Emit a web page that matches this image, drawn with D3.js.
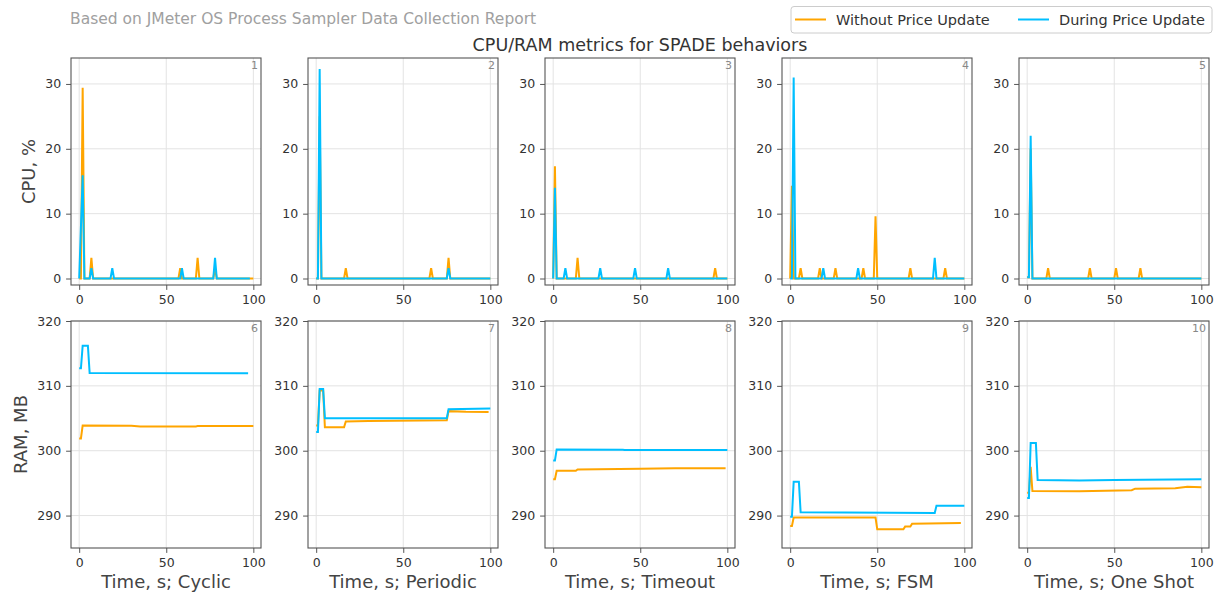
<!DOCTYPE html>
<html><head><meta charset="utf-8">
<script src="https://cdn.jsdelivr.net/npm/d3@7"></script>
<style>
body{margin:0;background:#fff;}
text{font-family:"DejaVu Sans",sans-serif;}
</style></head><body>
<svg id="chart" width="1217" height="595"></svg>
<script>
// ---------- data ----------
const behaviors = ["Cyclic", "Periodic", "Timeout", "FSM", "One Shot"];
const seriesNames = ["Without Price Update", "During Price Update"];
const seriesColors = ["#FFA500", "#00BFFF"];
const xTicks = [0, 50, 100];
const cpuTicks = [0, 10, 20, 30];
const ramTicks = [290, 300, 310, 320];

// CPU, % : [time s, value]
const cpuCyclicWithout = [[0,0],[1,0],[2,29.4],[3,0],[6,0],[7,3.2],[8,0],[57,0],[58,1.6],[59,0],[67,0],[68,3.2],[69,0],[77,0],[78,1.6],[79,0],[100,0]];
const cpuCyclicDuring = [[0,0],[2,15.9],[3,0],[6,0],[7,1.6],[8,0],[18,0],[19,1.6],[20,0],[58,0],[59,1.6],[60,0],[77,0],[78,3.2],[79,0],[98,0]];
const cpuPeriodicWithout = [[0,0],[1,0],[2,25],[3,0],[16,0],[17,1.6],[18,0],[65,0],[66,1.6],[67,0],[75,0],[76,3.2],[77,0],[100,0]];
const cpuPeriodicDuring = [[0,0],[1,0],[2,32.3],[3,0],[75,0],[76,1.6],[77,0],[100,0]];
const cpuTimeoutWithout = [[0,0],[1,17.3],[2,0],[13,0],[14,3.2],[15,0],[92,0],[93,1.6],[94,0],[100,0]];
const cpuTimeoutDuring = [[0,0],[1,14],[2,0],[6,0],[7,1.6],[8,0],[26,0],[27,1.6],[28,0],[46,0],[47,1.6],[48,0],[65,0],[66,1.6],[67,0],[100,0]];
const cpuFsmWithout = [[0,0],[1,14.3],[2,0],[5,0],[6,1.6],[7,0],[16,0],[17,1.6],[18,0],[25,0],[26,1.6],[27,0],[41,0],[42,1.6],[43,0],[48,0],[49,9.6],[50,0],[68,0],[69,1.6],[70,0],[88,0],[89,1.6],[90,0],[100,0]];
const cpuFsmDuring = [[0,0],[1,0],[2,31],[3,0],[18,0],[19,1.6],[20,0],[38,0],[39,1.6],[40,0],[82,0],[83,3.2],[84,0],[100,0]];
const cpuOneShotWithout = [[0,0.2],[1,0.2],[2,20],[3,0],[11,0],[12,1.6],[13,0],[35,0],[36,1.6],[37,0],[50,0],[51,1.6],[52,0],[64,0],[65,1.6],[66,0],[100,0]];
const cpuOneShotDuring = [[0,0.2],[1,0.2],[2,22],[3,0],[100,0]];

// RAM, MB : [time s, value]
const ramCyclicWithout = [[0,301.9],[1,301.9],[2,303.9],[30,303.85],[35,303.75],[67,303.75],[68,303.8],[100,303.8]];
const ramCyclicDuring = [[0,312.7],[1,312.7],[2,316.2],[5,316.2],[6,312.0],[97,311.95]];
const ramPeriodicWithout = [[0,303.9],[1,303.9],[2,309.3],[4,309.3],[5,303.6],[16,303.6],[17,304.5],[30,304.6],[75,304.7],[76,306.1],[86,306.0],[99,305.95]];
const ramPeriodicDuring = [[0,302.9],[1,302.9],[2,309.5],[4,309.5],[5,305.0],[75,305.0],[76,306.4],[100,306.5]];
const ramTimeoutWithout = [[0,295.6],[1,295.6],[2,296.9],[13,296.9],[14,297.1],[50,297.2],[70,297.3],[99,297.3]];
const ramTimeoutDuring = [[0,298.5],[1,298.5],[2,300.2],[40,300.15],[41,300.1],[100,300.1]];
const ramFsmWithout = [[0,288.4],[1,288.4],[2,289.7],[49,289.7],[50,287.9],[65,287.9],[66,288.3],[69,288.3],[70,288.75],[98,288.85]];
const ramFsmDuring = [[0,289.8],[1,289.8],[2,295.2],[5,295.2],[6,290.5],[83,290.4],[84,291.5],[100,291.5]];
const ramOneShotWithout = [[0,293.5],[1,293.5],[2,297.5],[3,293.8],[30,293.75],[60,293.9],[62,294.15],[85,294.2],[92,294.45],[100,294.35]];
const ramOneShotDuring = [[0,292.7],[1,292.7],[2,301.2],[5,301.2],[6,295.5],[30,295.4],[50,295.5],[100,295.6]];

const cpuData = [
  [cpuCyclicWithout, cpuCyclicDuring],
  [cpuPeriodicWithout, cpuPeriodicDuring],
  [cpuTimeoutWithout, cpuTimeoutDuring],
  [cpuFsmWithout, cpuFsmDuring],
  [cpuOneShotWithout, cpuOneShotDuring]
];
const ramData = [
  [ramCyclicWithout, ramCyclicDuring],
  [ramPeriodicWithout, ramPeriodicDuring],
  [ramTimeoutWithout, ramTimeoutDuring],
  [ramFsmWithout, ramFsmDuring],
  [ramOneShotWithout, ramOneShotDuring]
];

// ---------- layout ----------
const svg = d3.select("#chart");
const panelLeft0 = 71, panelStep = 237, panelW = 190, panelH = 227;
const rowTop = [58, 321];
const xDomain = [-4.7, 104.4];
const cpuDomain = [-1, 34];
const ramDomain = [285, 320];
const tickLen = 4.9, tickPad = 4.9;

svg.append("text").attr("x", 70).attr("y", 24)
  .attr("font-size", 15.5).attr("fill", "#a0a0a0")
  .text("Based on JMeter OS Process Sampler Data Collection Report");
svg.append("text").attr("x", 640).attr("y", 51)
  .attr("text-anchor", "middle").attr("font-size", 17.5).attr("fill", "#333")
  .text("CPU/RAM metrics for SPADE behaviors");

// legend
const leg = svg.append("g");
leg.append("rect").attr("x", 791).attr("y", 6.5).attr("width", 421).attr("height", 26.5)
  .attr("rx", 3).attr("fill", "#fff").attr("stroke", "#ccc").attr("stroke-width", 1);
const legX = [795, 1018];
seriesNames.forEach((n, i) => {
  leg.append("line").attr("x1", legX[i]).attr("x2", legX[i] + 31).attr("y1", 19.5).attr("y2", 19.5)
    .attr("stroke", seriesColors[i]).attr("stroke-width", 2);
  leg.append("text").attr("x", legX[i] + 41).attr("y", 24.5).attr("font-size", 14.5).attr("fill", "#333").text(n);
});

function drawPanel(row, col, series, yDomain, yTicks, num) {
  const left = panelLeft0 + col * panelStep, top = rowTop[row];
  const g = svg.append("g").attr("transform", `translate(${left},${top})`);
  const x = d3.scaleLinear().domain(xDomain).range([0, panelW]);
  const y = d3.scaleLinear().domain(yDomain).range([panelH, 0]);
  // grid
  g.append("g").selectAll("line").data(xTicks).join("line")
    .attr("x1", d => x(d)).attr("x2", d => x(d)).attr("y1", 0).attr("y2", panelH)
    .attr("stroke", "#e3e3e3").attr("stroke-width", 1);
  g.append("g").selectAll("line").data(yTicks).join("line")
    .attr("x1", 0).attr("x2", panelW).attr("y1", d => y(d)).attr("y2", d => y(d))
    .attr("stroke", "#e3e3e3").attr("stroke-width", 1);
  // lines
  const line = d3.line().x(d => x(d[0])).y(d => y(d[1]));
  series.forEach((s, i) => {
    g.append("path").datum(s).attr("d", line).attr("fill", "none")
      .attr("stroke", seriesColors[i]).attr("stroke-width", 2).attr("stroke-linejoin", "miter");
  });
  // axes
  const xa = g.append("g").attr("transform", `translate(0,${panelH})`)
    .call(d3.axisBottom(x).tickValues(xTicks).tickSize(tickLen).tickPadding(tickPad));
  const ya = g.append("g")
    .call(d3.axisLeft(y).tickValues(yTicks).tickSize(tickLen).tickPadding(tickPad));
  [xa, ya].forEach(a => {
    a.select(".domain").remove();
    a.selectAll("line").attr("stroke", "#555");
    a.selectAll("text").attr("font-size", 12.5).attr("fill", "#333").attr("font-family", "DejaVu Sans");
  });
  g.append("rect").attr("x", 0).attr("y", 0).attr("width", panelW).attr("height", panelH)
    .attr("fill", "none").attr("stroke", "#555").attr("stroke-width", 1.1);
  g.append("text").attr("x", panelW - 3).attr("y", 11).attr("text-anchor", "end")
    .attr("font-size", 11).attr("fill", "#888").text(num);
}

behaviors.forEach((b, i) => {
  drawPanel(0, i, cpuData[i], cpuDomain, cpuTicks, i + 1);
  drawPanel(1, i, ramData[i], ramDomain, ramTicks, i + 6);
  svg.append("text").attr("x", panelLeft0 + i * panelStep + panelW / 2).attr("y", 588)
    .attr("text-anchor", "middle").attr("font-size", 18).attr("fill", "#444")
    .text("Time, s; " + b);
});

svg.append("text").attr("transform", `translate(34.6,${rowTop[0] + panelH / 2}) rotate(-90)`)
  .attr("text-anchor", "middle").attr("font-size", 18).attr("fill", "#444").text("CPU, %");
svg.append("text").attr("transform", `translate(26.7,${rowTop[1] + panelH / 2}) rotate(-90)`)
  .attr("text-anchor", "middle").attr("font-size", 18).attr("fill", "#444").text("RAM, MB");
</script>
</body></html>
